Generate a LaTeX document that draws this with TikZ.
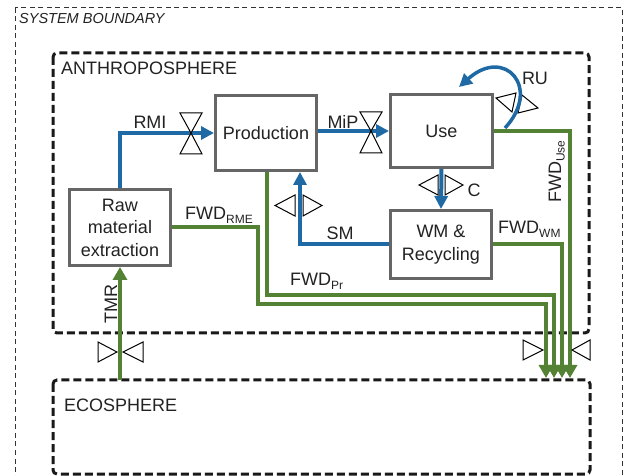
\documentclass[tikz,border=0pt]{standalone}
\usepackage{fontspec}
\setmainfont{Liberation Sans}
\usetikzlibrary{arrows.meta}
\definecolor{flowblue}{RGB}{31,106,165}
\definecolor{flowgreen}{RGB}{84,130,53}
\definecolor{boxgray}{RGB}{102,102,102}
\definecolor{txt}{RGB}{34,34,34}
\newcommand\flowsub[1]{\raisebox{-3.5pt}{\fontsize{12}{12}\selectfont #1}}
\tikzset{
  box/.style={draw=boxgray, line width=3pt, fill=white, align=center,
    font=\fontsize{18}{22.5}\selectfont, text=txt, inner sep=0pt},
  bflow/.style={draw=flowblue, line width=4pt, -{Triangle[length=13pt,width=13pt]}},
  gflow/.style={draw=flowgreen, line width=4pt, -{Triangle[length=13pt,width=14pt]}},
  valve/.style={draw=black, line width=1pt, fill=white, line join=miter},
  lbl/.style={font=\fontsize{18}{22}\selectfont, text=txt, inner sep=0pt},
  sphere/.style={draw=black!90, line width=3pt, dash pattern=on 8pt off 4pt, rounded corners=4pt},
}
\begin{document}
\begin{tikzpicture}[x=1pt,y=-1pt]
\useasboundingbox (0,0) rectangle (625,476);
% system boundary
\draw[black!80, line width=1pt, dash pattern=on 5pt off 3.5pt] (15,8) rectangle (622,520);
\node[lbl, anchor=base west, font=\fontsize{14.5}{16}\selectfont\itshape] (sb) at (19,24) {SYSTEM BOUNDARY};
% spheres
\draw[sphere] (53,53) rectangle (589,333);
\node[lbl, anchor=base west] (anthro) at (61,75) {ANTHROPOSPHERE};
\draw[sphere] (53,380) rectangle (590,474);
\node[lbl, anchor=base west] (eco) at (64,412) {ECOSPHERE};
% boxes
\node[box, minimum width=101pt, minimum height=75pt] (prod) at (266,133) {Production};
\node[box, minimum width=102pt, minimum height=73pt] (use) at (441.5,131) {Use};
\node[box, minimum width=101pt, minimum height=68pt] (wm) at (441,244.5) {WM \&\\Recycling};
\node[box, minimum width=101pt, minimum height=76pt] (raw) at (120,227.5) {Raw\\material\\extraction};
% coordinates on ecosphere
\coordinate (tmr0) at (120,380);
\coordinate (e1) at (546,378);
\coordinate (e2) at (554,378);
\coordinate (e3) at (562,378);
\coordinate (e4) at (570,378);
\coordinate (ru0) at (505,128);
\coordinate (ru1) at (459,87);
% green flows
\draw[gflow] (raw.east) -| (258,304) -| (e1);
\draw[gflow] ([xshift=1pt]prod.south) |- (554,295) -- (e2);
\draw[gflow] (wm.east) -| (e3);
\draw[gflow] (use.east) -| (e4);
\draw[gflow] (tmr0) -- (raw.south);
% blue flows
\draw[bflow] (raw.north) |- (prod.west);
\draw[bflow] (prod.east |- use.west) -- (use.west);
\draw[bflow] (use.south) -- (wm.north);
\draw[bflow] (wm.west) -| ([xshift=34pt]prod.south);
% valves
% RMI
\draw[valve] (180,113) -- (202,113) -- (191,133) -- cycle;
\draw[valve] (180,154) -- (202,154) -- (191,133) -- cycle;
% MiP
\draw[valve] (360,112) -- (382,112) -- (371,131) -- cycle;
\draw[valve] (360,153) -- (382,153) -- (371,131) -- cycle;
% C
\draw[valve] (438,175) -- (438,195) -- (419,185) -- cycle;
\draw[valve] (445,175) -- (445,195) -- (463,185) -- cycle;
% SM
\draw[valve] (295,195) -- (295,216) -- (275,205.5) -- cycle;
\draw[valve] (303,195) -- (303,216) -- (322,205.5) -- cycle;
% RU
\draw[valve] (516,93) -- (512,112) -- (496,98) -- cycle;
\draw[valve] (522,95) -- (518,113) -- (538,108) -- cycle;
% TMR
\draw[valve] (98,342) -- (98,362) -- (117,352) -- cycle;
\draw[valve] (143,342) -- (143,362) -- (123,352) -- cycle;
% FWD out
\draw[valve] (523,340) -- (523,360) -- (543,350) -- cycle;
\draw[valve] (590,340) -- (590,360) -- (572,350) -- cycle;
% RU recirculation (on top of its valve)
\draw[bflow, line width=3.5pt] (ru0) .. controls (542,88) and (505,46) .. (ru1);
% labels
\node[lbl] (lrmi) at (150,122.5) {RMI};
\node[lbl] (lmip) at (343,122) {MiP};
\node[lbl] (lru) at (535,78) {RU};
\node[lbl] (lc) at (474,190) {C};
\node[lbl] (lsm) at (340,233) {SM};
\node[lbl, anchor=base west] (lrme) at (185,220) {FWD\flowsub{RME}};
\node[lbl, anchor=base west] (lpr) at (290,286) {FWD\flowsub{Pr}};
\node[lbl, anchor=base west] (lwm) at (498,234) {FWD\flowsub{WM}};
\node[lbl, anchor=base west, rotate=90] (luse) at (561,203) {FWD\flowsub{Use}};
\node[lbl, anchor=base west, rotate=90] (ltmr) at (117,324) {TMR};
\end{tikzpicture}
\end{document}
